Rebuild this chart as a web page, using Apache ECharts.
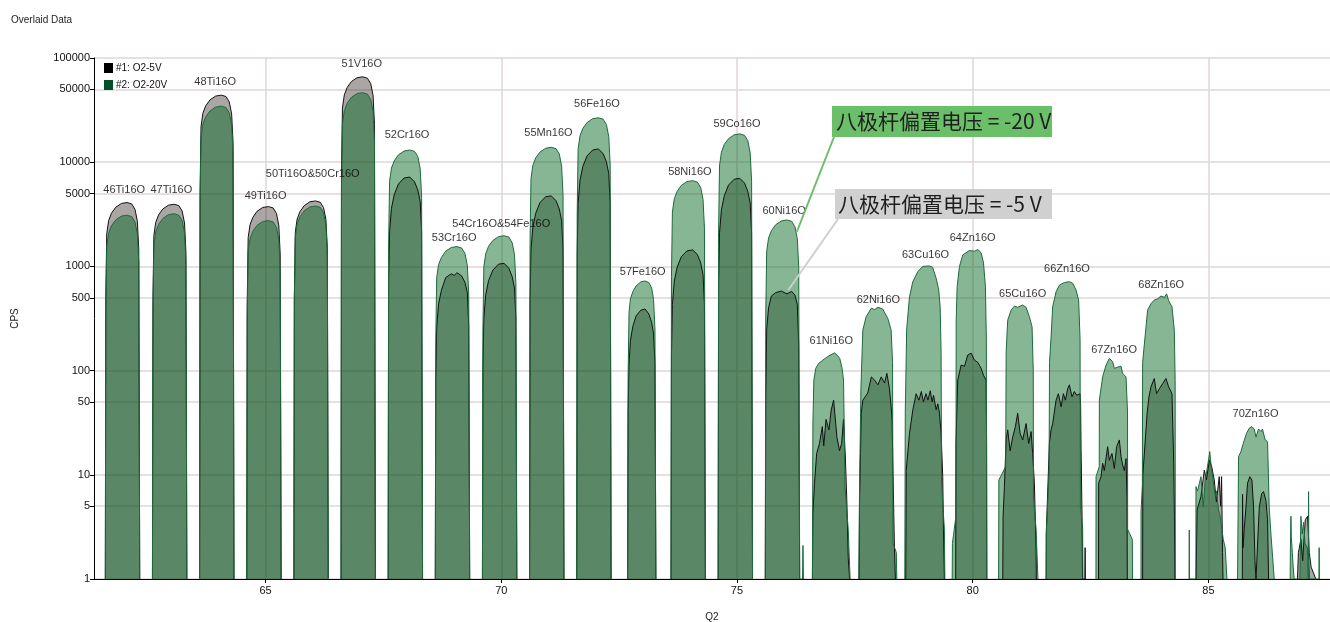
<!DOCTYPE html>
<html><head><meta charset="utf-8">
<script src="https://cdn.jsdelivr.net/npm/echarts@6/dist/echarts.min.js"></script>
<style>html,body{margin:0;padding:0;background:#fff}#c{width:1330px;height:622px}</style>
</head><body><div id="c"></div>
<script>
const seriesNames = ['#1: O2-5V', '#2: O2-20V'];
const yTicks = [1, 5, 10, 50, 100, 500, 1000, 5000, 10000, 50000, 100000];
const xTicks = [65, 70, 75, 80, 85];
const peakLabels = ['46Ti16O','47Ti16O','48Ti16O','49Ti16O','50Ti16O&50Cr16O','51V16O','52Cr16O','53Cr16O','54Cr16O&54Fe16O','55Mn16O','56Fe16O','57Fe16O','58Ni16O','59Co16O','60Ni16O','61Ni16O','62Ni16O','63Cu16O','64Zn16O','65Cu16O','66Zn16O','67Zn16O','68Zn16O','70Zn16O'];
const labelMass = [62,63,63.93,65,66,67.04,68,69,70,71,72.03,73,74,75,76,77,78,79,80,81.06,82,83,84,86];
const labelCps = [5410,5410,58900,4740,7710,87600,18240,1874,2553,19060,36200,884,8050,23250,3400,192,476,1286,1874,543,944,158,663,38.3];
const annotTexts = ['八极杆偏置电压 = -20 V', '八极杆偏置电压 = -5 V'];
const annotTargets = [[76.27, 2150], [76.09, 593]];

// -5 V series, one array of [mass, cps] per peak
const peaks5V = [
 [[61.60,1],[61.61,490],[61.63,2050],[61.67,2750],[61.73,3240],[61.82,3690],[61.94,4020],[62.06,4100],[62.16,3980],[62.23,3530],[62.28,2710],[62.31,1440],[62.33,1]],
 [[62.60,1],[62.61,470],[62.63,1980],[62.67,2650],[62.73,3120],[62.82,3560],[62.94,3870],[63.06,3950],[63.16,3830],[63.23,3400],[63.28,2610],[63.31,1380],[63.33,1]],
 [[63.60,1],[63.61,5300],[63.63,22000],[63.67,29500],[63.73,34800],[63.82,39600],[63.94,43100],[64.06,44000],[64.16,42700],[64.23,37800],[64.28,29000],[64.31,15400],[64.33,1]],
 [[64.60,1],[64.61,450],[64.63,1880],[64.67,2510],[64.73,2960],[64.82,3380],[64.94,3680],[65.06,3750],[65.16,3640],[65.23,3230],[65.28,2480],[65.31,1310],[65.33,1]],
 [[65.60,1],[65.61,510],[65.63,2130],[65.67,2850],[65.73,3360],[65.82,3830],[65.94,4170],[66.06,4250],[66.16,4120],[66.23,3660],[66.28,2810],[66.31,1490],[66.33,1]],
 [[66.60,1],[66.61,7900],[66.63,33000],[66.67,44200],[66.73,52100],[66.82,59400],[66.94,64700],[67.06,66000],[67.16,64000],[67.23,56800],[67.28,43600],[67.31,23100],[67.33,1]],
 [[67.60,1],[67.61,720],[67.63,2160],[67.67,3600],[67.73,4900],[67.82,6190],[67.94,7060],[68.06,7200],[68.16,6480],[68.23,5400],[68.28,4180],[68.31,2160],[68.33,1]],
 [[68.60,1],[68.61,87],[68.63,260],[68.67,435],[68.73,590],[68.82,780],[68.94,850],[69.00,820],[69.06,870],[69.16,810],[69.23,700],[69.28,560],[69.31,260],[69.33,1]],
 [[69.60,1],[69.61,107],[69.63,320],[69.67,535],[69.73,730],[69.82,920],[69.94,1050],[70.06,1070],[70.16,960],[70.23,800],[70.28,620],[70.31,320],[70.33,1]],
 [[70.60,1],[70.61,475],[70.63,1430],[70.67,2380],[70.73,3230],[70.82,4090],[70.94,4660],[71.06,4750],[71.16,4280],[71.23,3560],[71.28,2760],[71.31,1430],[71.33,1]],
 [[71.60,1],[71.61,1340],[71.63,4020],[71.67,6700],[71.73,9110],[71.82,11500],[71.94,13100],[72.06,13400],[72.16,12100],[72.23,10100],[72.28,7770],[72.31,4020],[72.33,1]],
 [[72.68,1],[72.69,39],[72.71,117],[72.74,195],[72.79,265],[72.86,335],[72.96,380],[73.05,390],[73.13,350],[73.19,290],[73.23,225],[73.26,117],[73.28,1]],
 [[73.60,1],[73.61,144],[73.63,430],[73.67,720],[73.73,980],[73.82,1240],[73.94,1410],[74.06,1440],[74.16,1300],[74.23,1080],[74.28,835],[74.31,430],[74.33,1]],
 [[74.60,1],[74.61,700],[74.63,2100],[74.67,3500],[74.73,4760],[74.82,6020],[74.94,6860],[75.06,7000],[75.16,6300],[75.23,5250],[75.28,4060],[75.31,2100],[75.33,1]],
 [[75.60,1],[75.61,58],[75.63,250],[75.67,400],[75.73,520],[75.82,560],[75.94,580],[76.06,545],[76.16,575],[76.23,530],[76.28,430],[76.31,175],[76.33,1]],
 [[76.60,1],[76.61,4.3],[76.645,8.3],[76.69,16],[76.75,20],[76.81,29],[76.84,19],[76.89,34],[76.95,27],[77.0,42],[77.05,52],[77.07,50],[77.12,23],[77.175,17],[77.22,20],[77.26,34],[77.30,14.5],[77.33,5.7],[77.36,1.6],[77.39,1]],
 [[77.59,1],[77.60,5.7],[77.62,16],[77.635,39],[77.67,52],[77.705,52],[77.775,61],[77.85,87],[77.92,81],[77.99,73],[78.06,87],[78.13,76],[78.18,94],[78.235,67],[78.27,45],[78.29,34],[78.305,14],[78.34,2],[78.36,1]],
 [[78.58,1],[78.59,11],[78.66,25],[78.73,42],[78.80,60],[78.86,52],[78.91,63],[78.955,50],[79.01,60],[79.05,52],[79.10,64],[79.14,50],[79.17,58],[79.225,42],[79.26,48],[79.295,39],[79.33,25],[79.365,9.6],[79.38,3],[79.40,1]],
 [[79.64,1],[79.645,20],[79.683,81],[79.755,113],[79.825,110],[79.895,141],[79.967,147],[80.037,126],[80.107,120],[80.18,105],[80.23,90],[80.285,81],[80.295,20],[80.30,1]],
 [[80.638,1],[80.645,4],[80.673,7.7],[80.709,21.6],[80.743,27],[80.794,17],[80.849,23],[80.906,29],[80.955,39],[81.006,25],[81.061,21.6],[81.133,31],[81.188,20],[81.239,26],[81.273,16],[81.309,8.3],[81.345,1.9],[81.35,1]],
 [[81.557,1],[81.56,2.7],[81.627,20],[81.663,27],[81.697,31],[81.769,52],[81.818,60],[81.875,45],[81.924,60],[81.966,52],[82.015,67],[82.051,73],[82.108,56],[82.157,63],[82.206,58],[82.278,60],[82.29,45],[82.30,17],[82.32,4],[82.33,1],[82.38,1],[82.385,2],[82.39,1]],
 [[82.67,1],[82.673,8.3],[82.723,9.6],[82.757,12.9],[82.793,11],[82.863,18.6],[82.899,13.8],[82.955,16],[83.005,11.5],[83.054,18.6],[83.111,21.6],[83.147,15],[83.181,12.4],[83.217,11],[83.253,14.3],[83.274,6],[83.28,1]],
 [[83.605,1],[83.61,10],[83.677,27],[83.70,39],[83.74,56],[83.783,70],[83.82,70],[83.853,84],[83.90,60],[83.96,67],[84.03,75],[84.10,84],[84.156,70],[84.228,60],[84.256,60],[84.265,12.9],[84.28,4],[84.29,1]],
 [[84.74,1],[84.76,4.6],[84.843,6.2],[84.914,11.1],[84.96,9],[85.02,13.8],[85.07,12],[85.125,8.9],[85.17,5.5],[85.23,9.6],[85.26,5],[85.28,9.6],[85.30,1.8],[85.31,1]],
 [[85.72,1],[85.725,6.5],[85.735,2],[85.76,3],[85.797,4.9],[85.83,8.3],[85.88,9.6],[85.924,8.9],[85.959,4.9],[85.988,1.5],[86.01,1],[86.043,1],[86.08,4.9],[86.13,6.6],[86.17,6.9],[86.22,5.7],[86.256,3.7],[86.277,1]],
 [[86.89,1],[86.91,1.8],[86.963,2.4],[87.0,1.5],[87.055,3.7],[87.104,4],[87.14,1.8],[87.18,1.3],[87.28,1]]
];

// -20 V series, one array of [mass, cps] per peak
const peaks20V = [
 [[61.60,1],[61.61,370],[61.63,1550],[61.67,2080],[61.73,2450],[61.82,2790],[61.94,3040],[62.06,3100],[62.16,3010],[62.23,2670],[62.28,2050],[62.31,1090],[62.33,1]],
 [[62.60,1],[62.61,380],[62.63,1600],[62.67,2140],[62.73,2530],[62.82,2880],[62.94,3140],[63.06,3200],[63.16,3100],[63.23,2750],[63.28,2110],[63.31,1120],[63.33,1]],
 [[63.60,1],[63.61,4100],[63.63,17200],[63.67,23100],[63.73,27300],[63.82,31000],[63.94,33800],[64.06,34500],[64.16,33500],[64.23,29700],[64.28,22800],[64.31,12100],[64.33,1]],
 [[64.60,1],[64.61,330],[64.63,1380],[64.67,1840],[64.73,2170],[64.82,2480],[64.94,2700],[65.06,2750],[65.16,2670],[65.23,2370],[65.28,1820],[65.31,960],[65.33,1]],
 [[65.60,1],[65.61,460],[65.63,1900],[65.67,2550],[65.73,3000],[65.82,3420],[65.94,3720],[66.06,3800],[66.16,3690],[66.23,3270],[66.28,2510],[66.31,1330],[66.33,1]],
 [[66.60,1],[66.61,5600],[66.63,23300],[66.67,31200],[66.73,36700],[66.82,41900],[66.94,45600],[67.06,46500],[67.16,45100],[67.23,40000],[67.28,30700],[67.31,16300],[67.33,1]],
 [[67.60,1],[67.61,1570],[67.63,6550],[67.67,8780],[67.73,10300],[67.82,11800],[67.94,12800],[68.06,13100],[68.16,12700],[68.23,11300],[68.28,8650],[68.31,4590],[68.33,1]],
 [[68.60,1],[68.61,190],[68.63,780],[68.67,1040],[68.73,1220],[68.82,1400],[68.94,1520],[69.06,1550],[69.16,1500],[69.23,1330],[69.28,1020],[69.31,540],[69.33,1]],
 [[69.60,1],[69.61,240],[69.63,990],[69.67,1320],[69.73,1560],[69.82,1770],[69.94,1930],[70.06,1970],[70.16,1910],[70.23,1690],[70.28,1300],[70.31,690],[70.33,1]],
 [[70.60,1],[70.61,1670],[70.63,6950],[70.67,9310],[70.73,11000],[70.82,12500],[70.94,13600],[71.06,13900],[71.16,13500],[71.23,12000],[71.28,9170],[71.31,4870],[71.33,1]],
 [[71.60,1],[71.61,3200],[71.63,13400],[71.67,17900],[71.73,21100],[71.82,24000],[71.94,26200],[72.06,26700],[72.16,25900],[72.23,23000],[72.28,17600],[72.31,9350],[72.33,1]],
 [[72.68,1],[72.69,87],[72.71,360],[72.74,490],[72.79,570],[72.86,650],[72.96,710],[73.05,725],[73.13,700],[73.19,620],[73.23,480],[73.26,250],[73.28,1]],
 [[73.60,1],[73.61,800],[73.63,3330],[73.67,4460],[73.73,5250],[73.82,5990],[73.94,6520],[74.06,6650],[74.16,6450],[74.23,5720],[74.28,4390],[74.31,2330],[74.33,1]],
 [[74.60,1],[74.61,2240],[74.63,9350],[74.67,12500],[74.73,14800],[74.82,16800],[74.94,18300],[75.06,18700],[75.16,18100],[75.23,16100],[75.28,12300],[75.31,6550],[75.33,1]],
 [[75.60,1],[75.61,335],[75.63,1400],[75.67,1870],[75.73,2200],[75.82,2510],[75.94,2730],[76.06,2790],[76.16,2710],[76.23,2400],[76.28,1840],[76.31,980],[76.33,1],[76.39,1],[76.40,2.1],[76.41,1]],
 [[76.60,1],[76.61,30],[76.63,80],[76.67,105],[76.73,117],[76.82,126],[76.92,136],[77.07,148],[77.13,140],[77.18,131],[77.23,105],[77.26,81],[77.28,20],[77.29,7.7],[77.36,3],[77.40,1]],
 [[77.585,1],[77.60,8],[77.63,70],[77.67,245],[77.74,329],[77.85,397],[77.92,385],[77.99,405],[78.09,390],[78.20,317],[78.27,245],[78.30,120],[78.31,2.2],[78.38,1.8],[78.39,1]],
 [[78.56,1],[78.57,40],[78.60,250],[78.66,512],[78.73,713],[78.835,890],[78.94,1000],[79.08,1010],[79.15,980],[79.225,770],[79.28,594],[79.31,410],[79.33,150],[79.34,8],[79.40,3],[79.41,1]],
 [[79.565,1],[79.57,2.2],[79.645,4],[79.65,300],[79.67,640],[79.72,1000],[79.79,1290],[79.93,1420],[80.04,1400],[80.11,1450],[80.18,1350],[80.23,1080],[80.27,640],[80.29,200],[80.30,1]],
 [[80.55,1],[80.555,8.9],[80.70,12],[80.71,150],[80.743,305],[80.815,380],[80.885,415],[80.955,405],[81.061,426],[81.133,405],[81.203,329],[81.26,263],[81.285,100],[81.29,6],[81.345,3],[81.38,2.9],[81.385,1]],
 [[81.56,1],[81.565,3],[81.62,10],[81.63,120],[81.663,210],[81.697,410],[81.769,570],[81.839,660],[81.945,700],[82.051,713],[82.121,690],[82.193,594],[82.248,475],[82.278,200],[82.285,5],[82.333,3],[82.34,1]],
 [[82.615,1],[82.617,9.6],[82.685,12],[82.687,52],[82.757,87],[82.829,113],[82.899,131],[82.969,122],[83.005,105],[83.075,108],[83.147,110],[83.181,94],[83.253,87],[83.285,40],[83.287,3],[83.387,2.4],[83.39,1]],
 [[83.57,1],[83.571,4.4],[83.60,8],[83.605,120],[83.677,263],[83.711,380],[83.783,440],[83.853,475],[83.923,490],[83.995,520],[84.065,505],[84.114,545],[84.156,470],[84.228,410],[84.277,245],[84.295,80],[84.298,1]],
 [[84.59,1],[84.595,2.95],[84.60,1],[84.735,1],[84.737,7.7],[84.77,7],[84.843,9.6],[84.89,4.9],[84.935,9],[84.98,11.9],[85.03,16.7],[85.06,11.9],[85.10,8.9],[85.146,6.2],[85.17,7],[85.216,4.6],[85.25,4],[85.316,2.4],[85.357,2],[85.394,1]],
 [[85.619,1],[85.64,14.9],[85.69,16.7],[85.74,20],[85.81,25],[85.867,28],[85.924,29],[85.973,27.5],[86.01,23],[86.064,27.5],[86.115,26],[86.148,27.5],[86.20,22],[86.256,20.6],[86.29,4.9],[86.327,2.7],[86.36,2.8],[86.397,1]],
 [[86.735,1],[86.74,2],[86.751,4],[86.76,2.5],[86.78,1.8],[86.80,1.3],[86.82,1],[86.94,1],[86.963,4],[86.99,2.7],[87.02,3.5],[87.05,2.2],[87.10,2],[87.12,1],[87.126,6.9],[87.13,1.5],[87.15,1],[87.345,1],[87.35,2],[87.355,1]]
];

function joinPeaks(peaks) {
  const out = [];
  peaks.forEach((p, i) => { if (i) out.push(['-', '-']); p.forEach(pt => out.push(pt)); });
  return out;
}

const chart = echarts.init(document.getElementById('c'), null, { renderer: 'canvas' });
const FONT = 'Liberation Sans, Arial, sans-serif';

chart.setOption({
  animation: false,
  backgroundColor: '#fff',
  title: { text: 'Overlaid Data', left: 6, top: 10, textStyle: { fontSize: 10, fontWeight: 'normal', color: '#222', fontFamily: FONT } },
  legend: {
    data: [
      { name: seriesNames[0], itemStyle: { color: '#000' } },
      { name: seriesNames[1], itemStyle: { color: '#00502c' } }
    ],
    orient: 'vertical', left: 99, top: 58, itemWidth: 9, itemHeight: 10, itemGap: 7,
    icon: 'rect', selectedMode: false,
    textStyle: { fontSize: 10, color: '#111', fontFamily: FONT, padding: [0, 0, 0, -2] }
  },
  grid: { left: 94, right: 0, top: 58, bottom: 43, containLabel: false, outerBoundsMode: 'none' },
  xAxis: {
    type: 'value', min: 61.36, max: 87.58,
    name: 'Q2', nameLocation: 'middle', nameGap: 33,
    nameTextStyle: { fontSize: 10, color: '#222', fontFamily: FONT },
    axisLine: { onZero: false, lineStyle: { color: '#000', width: 1 } },
    axisTick: { customValues: xTicks, length: 4, lineStyle: { color: '#000' } },
    axisLabel: { customValues: xTicks, fontSize: 11, color: '#111', fontFamily: FONT, margin: 6 },
    splitLine: { show: true, lineStyle: { color: '#e0d6d6', width: 1.5 } }
  },
  yAxis: {
    type: 'log', logBase: 10, min: 1, max: 100000,
    name: 'CPS', nameLocation: 'middle', nameGap: 74,
    nameTextStyle: { fontSize: 10, color: '#222', fontFamily: FONT },
    axisLine: { show: true, lineStyle: { color: '#000', width: 1 } },
    axisTick: { show: true, customValues: yTicks, length: 4, lineStyle: { color: '#000' } },
    axisLabel: { customValues: yTicks, fontSize: 11, color: '#111', fontFamily: FONT, margin: 4,
      formatter: v => String(Math.round(v)) },
    splitLine: { show: true, lineStyle: { color: '#e0d6d6', width: 1.5 } }
  },
  series: [
    {
      name: seriesNames[0], type: 'line', data: joinPeaks(peaks5V),
      symbol: 'none', smooth: false, sampling: null, connectNulls: false,
      itemStyle: { color: '#000' },
      lineStyle: { color: '#111', width: 1 },
      areaStyle: { color: 'rgba(22,8,2,0.36)', opacity: 1, origin: 'start' }
    },
    {
      name: seriesNames[1], type: 'line', data: joinPeaks(peaks20V),
      symbol: 'none', smooth: false, sampling: null, connectNulls: false,
      itemStyle: { color: '#00502c' },
      lineStyle: { color: '#1d6a3e', width: 1 },
      areaStyle: { color: 'rgba(0,100,30,0.47)', opacity: 1, origin: 'start' }
    },
    {
      name: 'labels', type: 'scatter', symbolSize: 0, silent: true, z: 10,
      data: peakLabels.map((t, i) => ({ name: t, value: [labelMass[i], labelCps[i]] })),
      label: { show: true, position: 'inside', formatter: p => p.name, fontSize: 11, color: '#000', fontFamily: FONT }
    }
  ]
});

// annotation boxes with leader lines
const g = annotTargets.map(t => chart.convertToPixel({ gridIndex: 0 }, t));
chart.setOption({
  graphic: [
    { type: 'line', shape: { x1: 834, y1: 137, x2: g[0][0], y2: g[0][1] }, style: { stroke: '#6cbf69', lineWidth: 2 }, z: 100 },
    { type: 'line', shape: { x1: 838, y1: 219, x2: g[1][0], y2: g[1][1] }, style: { stroke: '#cfcfcf', lineWidth: 2 }, z: 100 },
    { type: 'rect', shape: { x: 832, y: 106, width: 220, height: 31 }, style: { fill: '#6cbf69' }, z: 101 },
    { type: 'text', x: 836, y: 121.5, style: { text: annotTexts[0], fill: '#1e1e1e', font: '21px "Noto Sans CJK SC", sans-serif', verticalAlign: 'middle' }, z: 102 },
    { type: 'rect', shape: { x: 835, y: 189, width: 217, height: 30 }, style: { fill: '#d0d0d0' }, z: 101 },
    { type: 'text', x: 838, y: 204, style: { text: annotTexts[1], fill: '#1e1e1e', font: '21px "Noto Sans CJK SC", sans-serif', verticalAlign: 'middle' }, z: 102 }
  ]
});
</script>
</body></html>
